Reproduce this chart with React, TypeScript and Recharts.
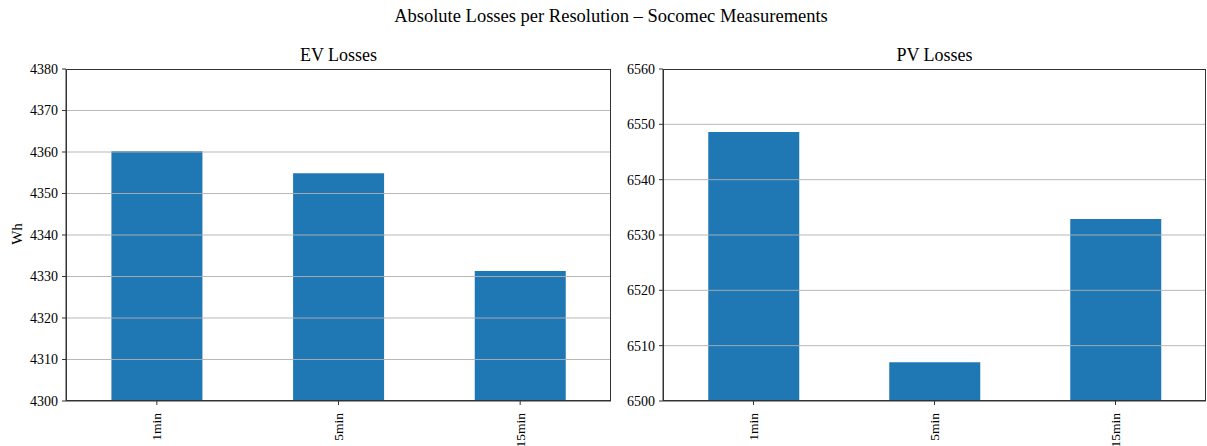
import React from 'react';
import { BarChart, Bar, XAxis, YAxis, ReferenceLine } from 'recharts';

const resolutions = ['1min', '5min', '15min'];
const evLosses = [4360.2, 4354.9, 4331.3];
const pvLosses = [6548.6, 6507.0, 6532.9];
const evTicks = [4300, 4310, 4320, 4330, 4340, 4350, 4360, 4370, 4380];
const pvTicks = [6500, 6510, 6520, 6530, 6540, 6550, 6560];

const FONT = '"Liberation Serif", "DejaVu Serif", serif';
const BLUE = '#1f77b4';
const AXIS = '#333';

const RotatedTick = (props: any) => {
  const { x, y, payload } = props;
  return (
    <text
      transform={`translate(${x},${y + 6}) rotate(-90)`}
      textAnchor="end"
      dominantBaseline="central"
      fill="#000"
      fontSize={13.5}
      fontFamily={FONT}
    >
      {payload.value}
    </text>
  );
};

interface PanelProps {
  title: string;
  values: number[];
  ticks: number[];
  left: number;
  width: number;
  yLabel?: string;
}

const Panel: React.FC<PanelProps> = ({ title, values, ticks, left, width, yLabel }) => {
  const data = resolutions.map((r, i) => ({ name: r, value: values[i] }));
  const axisW = 66;
  const rightM = 9;
  return (
    <div style={{ position: 'absolute', left, top: 0, width, height: 446 }}>
      <div
        style={{
          position: 'absolute',
          top: 45,
          left: axisW,
          width: width - axisW - rightM,
          textAlign: 'center',
          fontSize: 18,
          fontFamily: FONT,
          color: '#000',
        }}
      >
        {title}
      </div>
      {yLabel && (
        <div
          style={{
            position: 'absolute',
            left: 17,
            top: 234,
            transform: 'translate(-50%, -50%) rotate(-90deg)',
            fontSize: 15,
            fontFamily: FONT,
          }}
        >
          {yLabel}
        </div>
      )}
      <BarChart
        width={width}
        height={446}
        data={data}
        margin={{ top: 69, right: rightM, bottom: 0, left: 0 }}
        barCategoryGap="25%"
        style={{ overflow: 'visible' }}
      >
        <XAxis
          dataKey="name"
          height={45}
          interval={0}
          tick={<RotatedTick />}
          tickSize={4}
          stroke={AXIS}
          tickLine={{ stroke: AXIS }}
        />
        <YAxis
          domain={[ticks[0], ticks[ticks.length - 1]]}
          ticks={ticks}
          interval={0}
          width={axisW}
          tickSize={4}
          tickMargin={4}
          stroke={AXIS}
          tick={{ fill: '#000', fontSize: 14, fontFamily: FONT }}
        />
        <Bar dataKey="value" fill={BLUE} isAnimationActive={false} />
        {ticks.slice(1, -1).map((t) => (
          <ReferenceLine key={t} y={t} stroke="#b0b0b0" strokeWidth={0.9} />
        ))}
      </BarChart>
      <div
        style={{
          position: 'absolute',
          left: axisW,
          top: 69,
          width: width - axisW - rightM,
          height: 332,
          boxSizing: 'border-box',
          border: `1px solid ${AXIS}`,
          pointerEvents: 'none',
        }}
      />
    </div>
  );
};

export default function App() {
  return (
    <div style={{ position: 'absolute', left: 0, top: 0, width: 1207, height: 446, background: '#fff' }}>
      <div
        style={{
          position: 'absolute',
          top: 6,
          left: 0,
          width: 1222,
          textAlign: 'center',
          fontSize: 18.5,
          fontFamily: FONT,
          color: '#000',
        }}
      >
        Absolute Losses per Resolution – Socomec Measurements
      </div>
      <Panel title="EV Losses" values={evLosses} ticks={evTicks} left={0} width={620} yLabel="Wh" />
      <Panel title="PV Losses" values={pvLosses} ticks={pvTicks} left={597} width={618} />
    </div>
  );
}
